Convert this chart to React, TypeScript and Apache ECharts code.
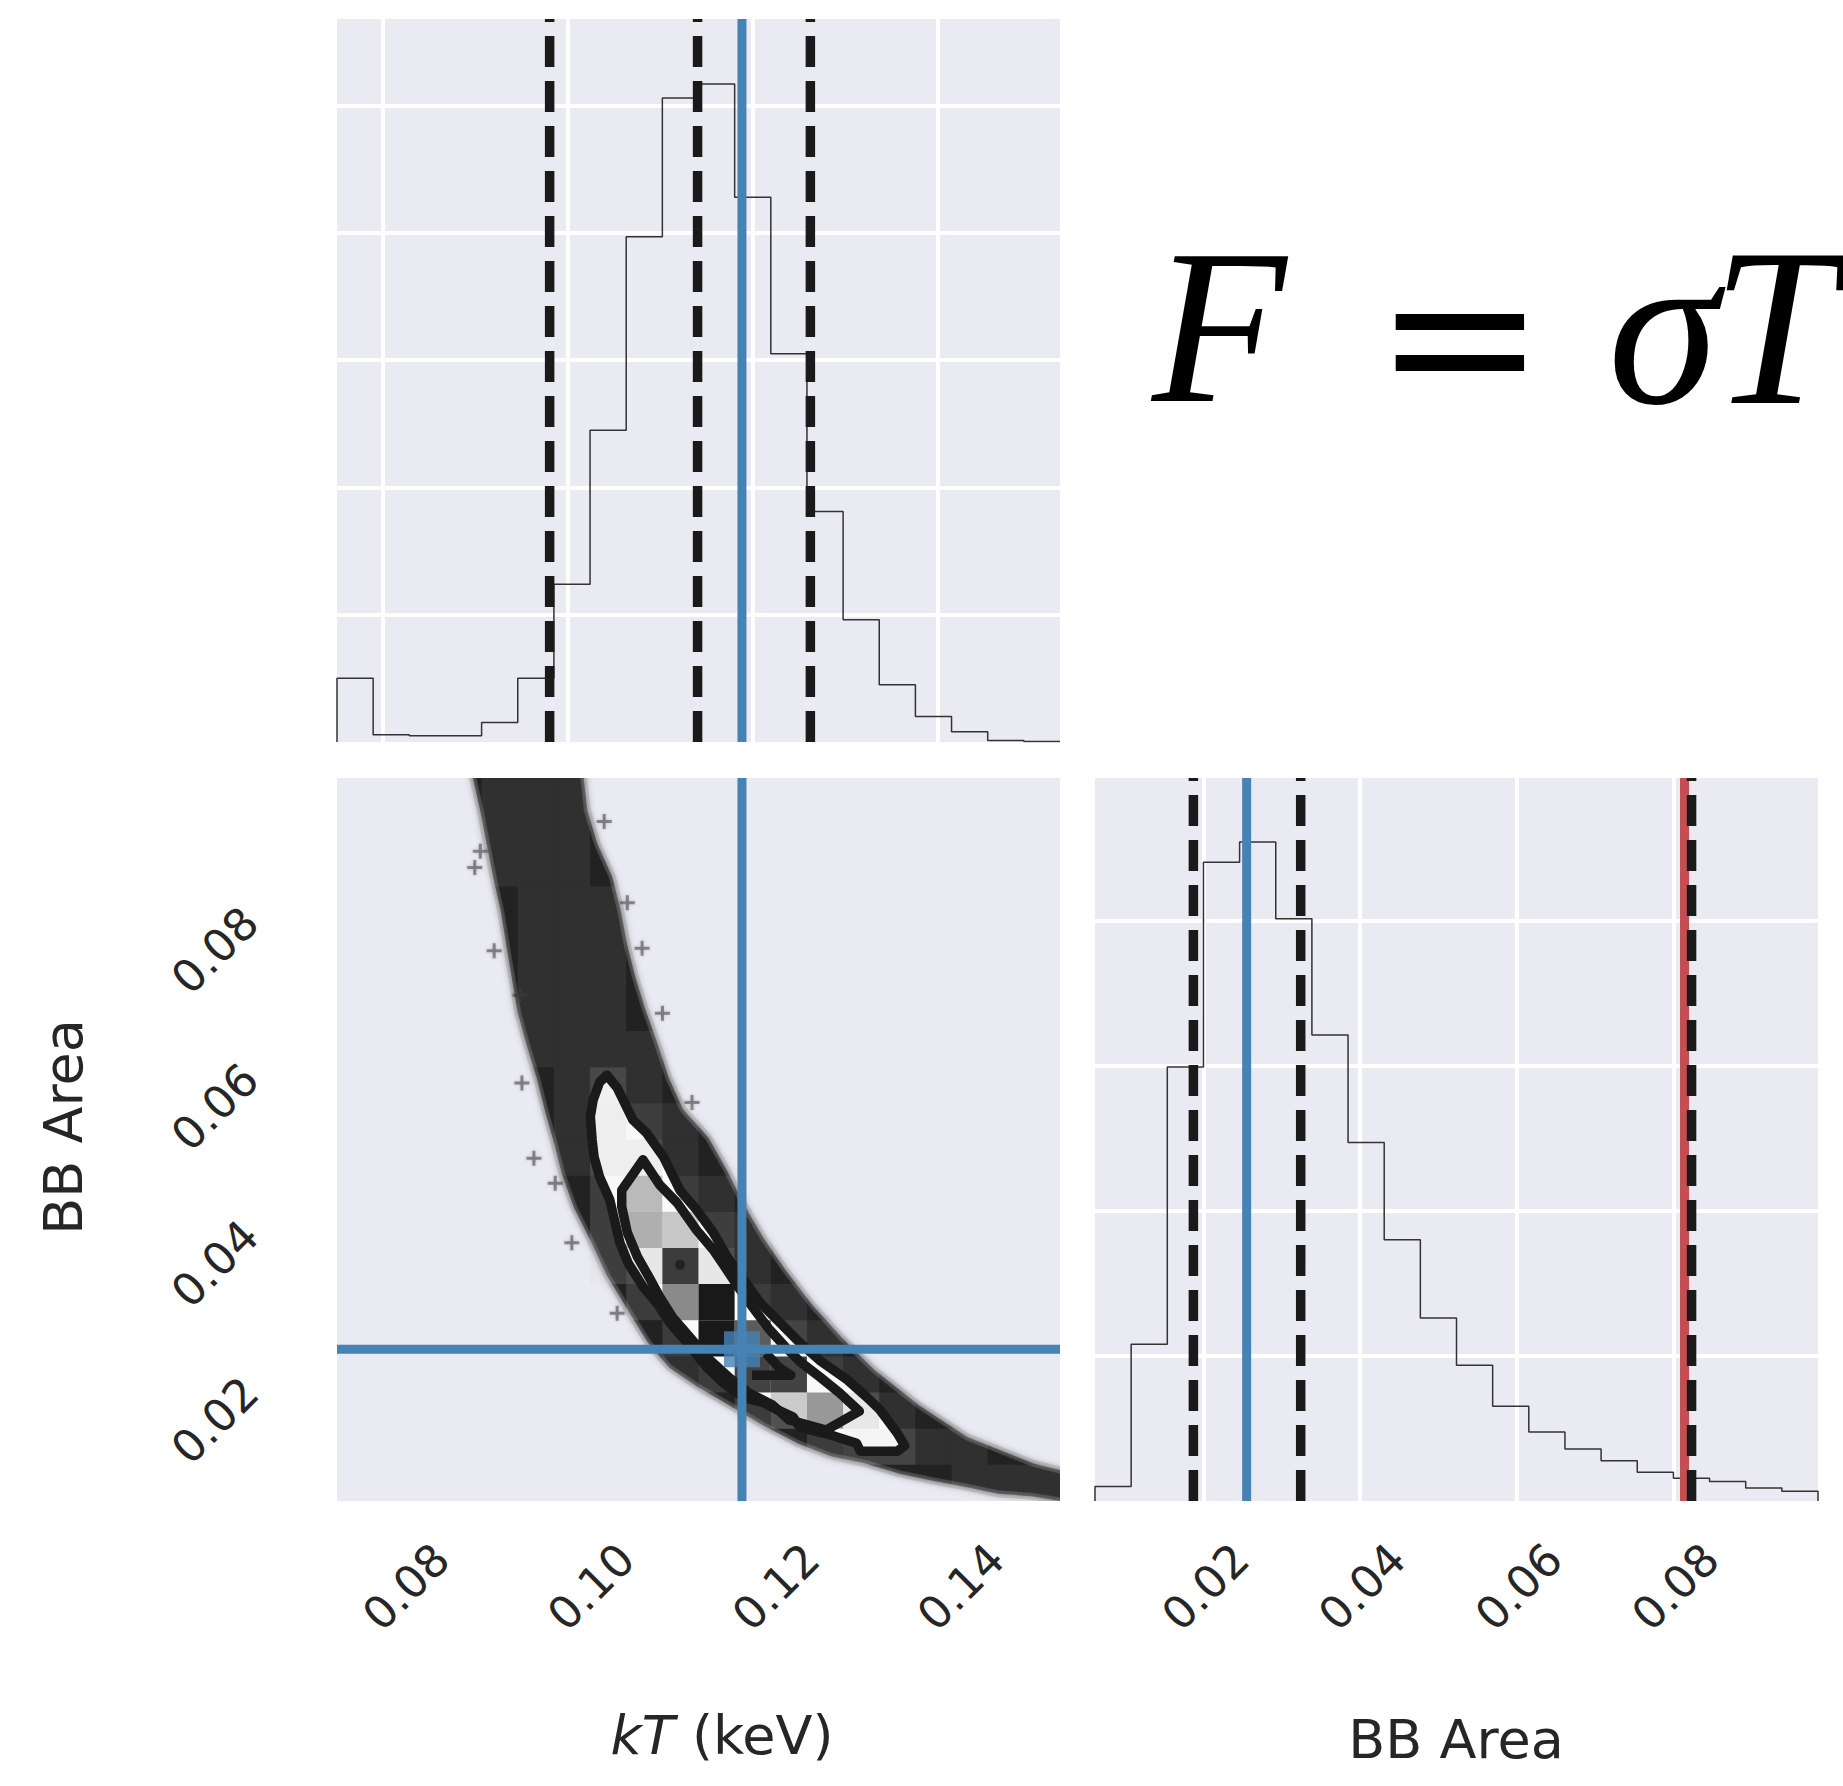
import React, { useEffect, useRef } from "react";
import * as echarts from "echarts";

// ---------- axis ranges ----------
const KT_MIN = 0.075;
const KT_MAX = 0.1532;
const BB_MIN = 0.00614;
const BB_MAX = 0.09844;
const N_BINS = 20;
const KT_HIST_MAX = 5.68;
const BB_HIST_MAX = 4.98;

// ---------- 1D histograms (arbitrary density units) ----------
const kTHist = [0.5, 0.057, 0.05, 0.05, 0.153, 0.5, 1.24, 2.45, 3.97, 5.06, 5.17, 4.28, 3.05, 1.81, 0.96, 0.45, 0.2, 0.08, 0.011, 0.004];
const bbHist = [0.1, 1.08, 2.99, 4.4, 4.54, 4.01, 3.21, 2.47, 1.8, 1.26, 0.935, 0.653, 0.476, 0.358, 0.278, 0.198, 0.157, 0.134, 0.09, 0.067];

// ---------- marker values ----------
const kTQuantiles = [0.098, 0.114, 0.1262];
const kTBest = 0.1188;
const bbQuantiles = [0.0187, 0.0324, 0.0823];
const bbBest = 0.0255;
const bbReference = 0.0814;

// ---------- tick labels ----------
const kTTicks = [0.08, 0.1, 0.12, 0.14];
const bbTicks = [0.02, 0.04, 0.06, 0.08];

// ---------- 2D sample cloud (band boundaries) ----------
const bandLowerKT = [0.0895, 0.0901, 0.0909, 0.0916, 0.0923, 0.0931, 0.0937, 0.0943, 0.0949, 0.0959, 0.097, 0.0979, 0.0988, 0.0997, 0.101, 0.1028, 0.1045, 0.1067, 0.1089, 0.1112, 0.1142, 0.1177, 0.1214, 0.125, 0.1285, 0.1322, 0.1358, 0.1394, 0.143, 0.1466, 0.1502, 0.1543];
const bandLowerBB = [0.102, 0.0984, 0.0942, 0.0899, 0.0857, 0.0815, 0.0771, 0.0729, 0.0687, 0.0644, 0.0601, 0.0559, 0.0522, 0.048, 0.0437, 0.0395, 0.0352, 0.0309, 0.0267, 0.0235, 0.0211, 0.0187, 0.0161, 0.0139, 0.0123, 0.0114, 0.0101, 0.0092, 0.0084, 0.0075, 0.0072, 0.0064];
const bandUpperKT = [0.1008, 0.1013, 0.1017, 0.1028, 0.1044, 0.1053, 0.106, 0.1069, 0.108, 0.1093, 0.1105, 0.1121, 0.1149, 0.1169, 0.1187, 0.1208, 0.1233, 0.1261, 0.1293, 0.1329, 0.1376, 0.143, 0.1502, 0.1543];
const bandUpperBB = [0.102, 0.0984, 0.0942, 0.0899, 0.0857, 0.0815, 0.0771, 0.0729, 0.0687, 0.0644, 0.0601, 0.0559, 0.0522, 0.048, 0.0437, 0.0395, 0.0352, 0.0309, 0.0267, 0.0225, 0.0181, 0.0139, 0.0105, 0.0093];

const outlierKT = [0.0905, 0.0899, 0.092, 0.0948, 0.095, 0.108, 0.1102, 0.1134, 0.1064, 0.1039, 0.0963, 0.0986, 0.1004, 0.1053];
const outlierBB = [0.0891, 0.087, 0.0764, 0.0707, 0.0595, 0.0767, 0.0684, 0.057, 0.0825, 0.0929, 0.0499, 0.0467, 0.0391, 0.0301];

// ---------- 2D histogram cells: band rows (row from top: first col, last col) ----------
const bandCellRows = [[4, 6], [4, 6], [4, 6], [5, 7], [5, 7], [5, 7], [5, 7], [5, 8], [6, 8], [6, 9], [6, 9], [7, 10], [7, 11], [7, 11], [8, 12], [9, 13], [9, 14], [11, 15], [13, 17], [17, 19]];
const bandCellDensity = 0.07;
// dense cells: [col, rowFromTop, density]
const denseCells = [
  [7, 8, 0.23], [7, 9, 0.26], [8, 9, 0.16], [7, 10, 0.26], [8, 10, 0.26],
  [7, 11, 0.16], [8, 11, 0.52], [9, 11, 0.14], [7, 12, 0.16], [8, 12, 0.56],
  [9, 12, 0.47], [10, 12, 0.16], [7, 13, 0.16], [8, 13, 0.31], [9, 13, 0.875],
  [10, 13, 0.31], [8, 14, 0.14], [9, 14, 0.68], [10, 14, 0.95], [11, 14, 0.14],
  [9, 15, 0.14], [10, 15, 0.95], [11, 15, 0.8], [12, 15, 0.2], [10, 16, 0.14],
  [11, 16, 0.86], [12, 16, 0.86], [13, 16, 0.16], [11, 17, 0.14], [12, 17, 0.45],
  [13, 17, 0.63], [14, 17, 0.3], [13, 18, 0.14], [14, 18, 0.2], [15, 18, 0.2],
];

// ---------- contours ----------
const outerKT = [0.1042, 0.1034, 0.1027, 0.1024, 0.1026, 0.1028, 0.1034, 0.1045, 0.1051, 0.1056, 0.1065, 0.1081, 0.1096, 0.111, 0.1129, 0.115, 0.1168, 0.1189, 0.1211, 0.1226, 0.1243, 0.1251, 0.1283, 0.1312, 0.1316, 0.1356, 0.1364, 0.1356, 0.1337, 0.1323, 0.1302, 0.1272, 0.1251, 0.1229, 0.1208, 0.1188, 0.1172, 0.1157, 0.1139, 0.1121, 0.1103, 0.1085, 0.107, 0.1053];
const outerBB = [0.0605, 0.0596, 0.0573, 0.0552, 0.0522, 0.0501, 0.0475, 0.0446, 0.0416, 0.0391, 0.0365, 0.0335, 0.0314, 0.0289, 0.0263, 0.0232, 0.0212, 0.0194, 0.0187, 0.0178, 0.0169, 0.0155, 0.0146, 0.0135, 0.0125, 0.0125, 0.0132, 0.0148, 0.0178, 0.0194, 0.0216, 0.0241, 0.0263, 0.0289, 0.0314, 0.0347, 0.0373, 0.0404, 0.0433, 0.0458, 0.0501, 0.0531, 0.0548, 0.0589];
const innerKT = [0.1081, 0.1099, 0.1118, 0.1139, 0.1157, 0.1172, 0.1186, 0.1202, 0.1218, 0.1235, 0.1251, 0.1272, 0.1294, 0.1315, 0.1279, 0.1239, 0.1221, 0.1196, 0.1175, 0.115, 0.1132, 0.1113, 0.1099, 0.1089, 0.1075, 0.1064, 0.1058, 0.1058];
const innerBB = [0.0497, 0.0465, 0.0442, 0.0407, 0.0382, 0.0356, 0.0331, 0.0305, 0.028, 0.0258, 0.0239, 0.022, 0.0199, 0.0176, 0.0152, 0.0165, 0.0184, 0.0199, 0.0218, 0.0245, 0.027, 0.0296, 0.0322, 0.0344, 0.0373, 0.0404, 0.0437, 0.0458];
const notchKT = [0.1199, 0.1241, 0.1228, 0.1214];
const notchBB = [0.0222, 0.0222, 0.0232, 0.025];
const peakDot = [0.1121, 0.0363];

// ---------- styles ----------
const BG = "#EAEAF2";
const BLUE = "#4682B4";
const RED = "#C44E52";
const DARK = "#1A1A1A";
const TEXT = "#262626";
const FONT = "DejaVu Sans";
const PLUS = "path://M4,0 L6,0 L6,4 L10,4 L10,6 L6,6 L6,10 L4,10 L4,6 L0,6 L0,4 L4,4 Z";

function edges(min: number, max: number) {
  const out: number[] = [];
  for (let i = 0; i <= N_BINS; i++) out.push(min + (i * (max - min)) / N_BINS);
  return out;
}

function stepData(edgesArr: number[], vals: number[]) {
  const d: number[][] = [[edgesArr[0], 0]];
  vals.forEach((v, i) => d.push([edgesArr[i], v]));
  d.push([edgesArr[N_BINS], vals[N_BINS - 1]]);
  d.push([edgesArr[N_BINS], 0]);
  return d;
}

function vline(xi: number, yi: number, x: number, y0: number, y1: number, color: string, dashed: boolean, z: number) {
  return {
    type: "line",
    xAxisIndex: xi,
    yAxisIndex: yi,
    data: [[x, y0], [x, y1]],
    showSymbol: false,
    silent: true,
    z,
    lineStyle: { color, width: dashed ? 9.5 : 9, type: dashed ? [31, 14] : "solid", cap: "butt" },
  };
}

function clipGroup(params: any, children: any[]) {
  const cs = params.coordSys;
  return {
    type: "group",
    clipPath: { type: "rect", shape: { x: cs.x, y: cs.y, width: cs.width, height: cs.height } },
    children,
  };
}

function pts(api: any, xs: number[], ys: number[]) {
  return xs.map((x, i) => api.coord([x, ys[i]]));
}

export default function App() {
  const ref = useRef<HTMLDivElement>(null);

  useEffect(() => {
    if (!ref.current) return;
    document.body.style.margin = "0";
    const chart = echarts.init(ref.current, undefined, { renderer: "svg" });

    const kTEdges = edges(KT_MIN, KT_MAX);
    const bbEdges = edges(BB_MIN, BB_MAX);
    const kBW = (KT_MAX - KT_MIN) / N_BINS;
    const bBW = (BB_MAX - BB_MIN) / N_BINS;

    // build cells
    const denseMap: Record<string, number> = {};
    denseCells.forEach(([c, r, d]) => (denseMap[c + "_" + r] = d));
    const cellData: number[][] = [];
    bandCellRows.forEach(([c0, c1], r) => {
      for (let c = c0; c <= c1; c++) {
        const d = denseMap[c + "_" + r] ?? bandCellDensity;
        const x0 = KT_MIN + c * kBW;
        const yTop = BB_MAX - r * bBW;
        cellData.push([x0, yTop, x0 + kBW, yTop - bBW, d]);
      }
    });

    const splitWhite = { show: true, lineStyle: { color: "#FFFFFF", width: 4 }, showMinLine: false, showMaxLine: false };
    const hiddenAxis = { axisLine: { show: false }, axisTick: { show: false }, axisLabel: { show: false } };

    const option: any = {
      animation: false,
      backgroundColor: "#FFFFFF",
      grid: [
        { left: 337, top: 19, width: 723, height: 723, show: true, backgroundColor: BG, borderWidth: 0 },
        { left: 337, top: 778, width: 723, height: 723, show: true, backgroundColor: BG, borderWidth: 0 },
        { left: 1095, top: 778, width: 723, height: 723, show: true, backgroundColor: BG, borderWidth: 0 },
      ],
      xAxis: [
        { type: "value", gridIndex: 0, min: KT_MIN, max: KT_MAX, splitLine: splitWhite, ...hiddenAxis },
        { type: "value", gridIndex: 1, min: KT_MIN, max: KT_MAX, splitLine: { show: false }, ...hiddenAxis },
        { type: "value", gridIndex: 2, min: BB_MIN, max: BB_MAX, splitLine: splitWhite, ...hiddenAxis },
      ],
      yAxis: [
        { type: "value", gridIndex: 0, min: 0, max: KT_HIST_MAX, interval: 1, splitLine: splitWhite, ...hiddenAxis },
        { type: "value", gridIndex: 1, min: BB_MIN, max: BB_MAX, splitLine: { show: false }, ...hiddenAxis },
        { type: "value", gridIndex: 2, min: 0, max: BB_HIST_MAX, interval: 1, splitLine: splitWhite, ...hiddenAxis },
      ],
      series: [
        // ---- top histogram
        {
          type: "line", xAxisIndex: 0, yAxisIndex: 0, step: "end", data: stepData(kTEdges, kTHist),
          showSymbol: false, silent: true, z: 3, lineStyle: { color: "#333333", width: 1.5 },
        },
        ...kTQuantiles.map((q) => vline(0, 0, q, 0, KT_HIST_MAX, DARK, true, 4)),
        vline(0, 0, kTBest, 0, KT_HIST_MAX, BLUE, false, 5),

        // ---- bottom-right histogram
        {
          type: "line", xAxisIndex: 2, yAxisIndex: 2, step: "end", data: stepData(bbEdges, bbHist),
          showSymbol: false, silent: true, z: 3, lineStyle: { color: "#333333", width: 1.5 },
        },
        vline(2, 2, bbReference, 0, BB_HIST_MAX, RED, false, 4),
        ...bbQuantiles.map((q) => vline(2, 2, q, 0, BB_HIST_MAX, DARK, true, 5)),
        vline(2, 2, bbBest, 0, BB_HIST_MAX, BLUE, false, 6),

        // ---- 2D panel: sample cloud
        {
          type: "scatter", xAxisIndex: 1, yAxisIndex: 1, z: 2, silent: true,
          data: outlierKT.map((x, i) => [x, outlierBB[i]]),
          symbol: PLUS, symbolSize: 15,
          itemStyle: { color: "rgba(45,45,45,0.6)", shadowBlur: 3, shadowColor: "rgba(45,45,45,0.5)" },
        },
        {
          type: "custom", xAxisIndex: 1, yAxisIndex: 1, z: 2, silent: true,
          data: [[KT_MIN, BB_MIN]],
          renderItem: (params: any, api: any) => {
            const p = pts(api, bandLowerKT, bandLowerBB).concat(pts(api, bandUpperKT, bandUpperBB).reverse());
            return clipGroup(params, [
              { type: "polygon", shape: { points: p }, style: { fill: "none", stroke: "rgba(34,34,34,0.12)", lineWidth: 14, lineJoin: "round" } },
              {
                type: "polygon", shape: { points: p },
                style: { fill: "#222222", stroke: "rgba(34,34,34,0.55)", lineWidth: 7, lineJoin: "round", shadowBlur: 8, shadowColor: "rgba(30,30,30,0.9)" },
              },
            ]);
          },
        },
        // white fill inside the outer contour
        {
          type: "custom", xAxisIndex: 1, yAxisIndex: 1, z: 3, silent: true,
          data: [[KT_MIN, BB_MIN]],
          renderItem: (params: any, api: any) =>
            clipGroup(params, [{ type: "polygon", shape: { points: pts(api, outerKT, outerBB) }, style: { fill: "#FFFFFF" } }]),
        },
        // density cells
        {
          type: "custom", xAxisIndex: 1, yAxisIndex: 1, z: 4, silent: true,
          encode: { x: [0, 2], y: [1, 3] },
          data: cellData,
          renderItem: (params: any, api: any) => {
            const a = api.coord([api.value(0), api.value(1)]);
            const b = api.coord([api.value(2), api.value(3)]);
            const d = api.value(4);
            const g = Math.round(255 * (1 - d));
            return {
              type: "rect",
              shape: { x: a[0], y: a[1], width: b[0] - a[0], height: b[1] - a[1] },
              style: { fill: `rgba(${g},${g},${g},${d})` },
            };
          },
        },
        // contour lines
        {
          type: "custom", xAxisIndex: 1, yAxisIndex: 1, z: 5, silent: true,
          data: [[KT_MIN, BB_MIN]],
          renderItem: (params: any, api: any) =>
            clipGroup(params, [
              { type: "polygon", shape: { points: pts(api, outerKT, outerBB) }, style: { fill: "none", stroke: DARK, lineWidth: 9.5, lineJoin: "round" } },
              { type: "polygon", shape: { points: pts(api, innerKT, innerBB) }, style: { fill: "none", stroke: DARK, lineWidth: 9.5, lineJoin: "round" } },
              { type: "polyline", shape: { points: pts(api, notchKT, notchBB) }, style: { fill: "none", stroke: DARK, lineWidth: 9.5, lineJoin: "round" } },
            ]),
        },
        {
          type: "scatter", xAxisIndex: 1, yAxisIndex: 1, z: 5, silent: true,
          data: [peakDot], symbol: "circle", symbolSize: 10, itemStyle: { color: DARK },
        },
        // best-fit lines
        vline(1, 1, kTBest, BB_MIN, BB_MAX, BLUE, false, 6),
        {
          type: "line", xAxisIndex: 1, yAxisIndex: 1, data: [[KT_MIN, bbBest], [KT_MAX, bbBest]],
          showSymbol: false, silent: true, z: 6, lineStyle: { color: BLUE, width: 9 },
        },
        {
          type: "scatter", xAxisIndex: 1, yAxisIndex: 1, z: 7, silent: true,
          data: [[kTBest, bbBest]], symbol: "rect", symbolSize: 36, itemStyle: { color: BLUE },
        },
      ],
    };

    chart.setOption(option);

    const label = (x: number, y: number, text: string, rot: number, size: number, extra: any = {}) => ({
      type: "text",
      x,
      y,
      rotation: rot,
      silent: true,
      style: {
        text,
        fontSize: size,
        fontFamily: FONT,
        fill: TEXT,
        align: "center",
        verticalAlign: "middle",
        textAlign: "center",
        textVerticalAlign: "middle",
        ...extra,
      },
    });

    const elements: any[] = [];
    kTTicks.forEach((v) => {
      const px = chart.convertToPixel({ xAxisIndex: 1 }, v) as number;
      elements.push(label(px + 23, 1587, v.toFixed(2), Math.PI / 4, 45));
    });
    bbTicks.forEach((v) => {
      const px = chart.convertToPixel({ xAxisIndex: 2 }, v) as number;
      elements.push(label(px + 2, 1587, v.toFixed(2), Math.PI / 4, 45));
    });
    bbTicks.forEach((v) => {
      const py = chart.convertToPixel({ yAxisIndex: 1 }, v) as number;
      elements.push(label(215, py + 28, v.toFixed(2), Math.PI / 4, 45));
    });
    elements.push(
      label(722, 1735, "{i|kT} (keV)", 0, 54, {
        rich: { i: { fontStyle: "italic", fontSize: 54, fontFamily: FONT, fill: TEXT } },
      })
    );
    elements.push(label(1456, 1739, "BB Area", 0, 54));
    elements.push(label(63, 1127, "BB Area", Math.PI / 2, 54));

    // F = sigma T
    const serif = "Liberation Serif";
    const eq = (x: number, y: number, text: string, italic: boolean, family: string, size: number, align: string) => ({
      type: "text",
      x,
      y,
      silent: true,
      style: {
        text,
        fontSize: size,
        fontFamily: family,
        fontStyle: italic ? "italic" : "normal",
        fill: "#000000",
        align,
        verticalAlign: "middle",
        textAlign: align,
        textVerticalAlign: "middle",
      },
    });
    elements.push(eq(1152, 327, "F", true, serif, 220, "left"));
    elements.push(eq(1460, 336, "=", false, "DejaVu Serif", 205, "center"));
    elements.push(eq(1608, 327, "σ", true, serif, 224, "left"));
    elements.push(eq(1712, 327, "T", true, serif, 224, "left"));

    chart.setOption({ graphic: { elements } });

    return () => chart.dispose();
  }, []);

  return (
    <div
      ref={ref}
      style={{ position: "absolute", left: 0, top: 0, width: 1843, height: 1786, background: "#FFFFFF" }}
    />
  );
}
